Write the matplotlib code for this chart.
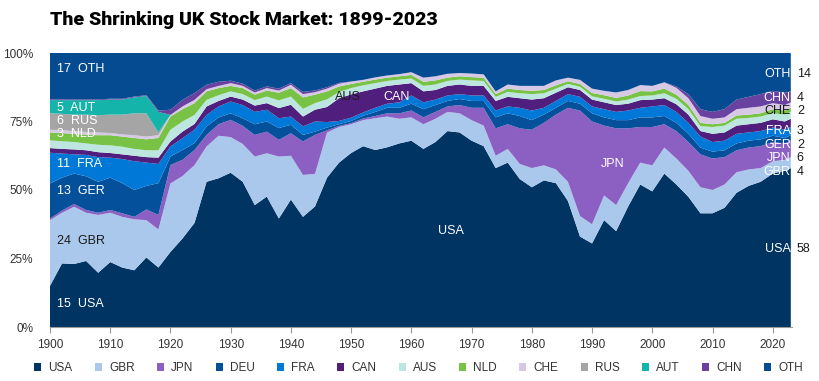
import matplotlib
matplotlib.use("Agg")
import matplotlib.pyplot as plt
from matplotlib.patches import Patch

years = list(range(1900, 2023, 2)) + [2023]

usa = [15.0, 23.2, 23.0, 24.1, 19.8, 23.7, 21.7, 20.7, 25.4, 21.7, 27.4, 32.3, 38.0, 53.0, 54.3, 56.3,
       53.0, 44.5, 47.6, 39.6, 46.5, 40.2, 44.0, 54.5, 60.0, 63.5, 66.0, 64.6, 65.6, 67.0, 68.0,
       65.0, 67.5, 71.5, 71.0, 68.0, 66.0, 58.0, 60.0, 54.0, 51.0, 53.5, 52.5, 46.0, 33.0, 30.5,
       39.0, 35.0, 44.0, 52.0, 49.5, 56.0, 52.0, 47.5, 41.5, 41.5, 43.5, 49.0, 51.5, 53.0, 56.0, 57.0, 58.0]
gbr = [24.0, 18.5, 20.9, 17.6, 21.1, 18.0, 18.5, 18.6, 13.6, 13.9, 25.0, 22.8, 21.1, 12.9, 15.5, 13.0,
       13.8, 17.7, 15.8, 22.6, 16.0, 15.3, 11.9, 16.5, 13.0, 10.5, 9.5, 11.6, 11.2, 9.0, 8.5,
       9.0, 8.5, 7.0, 7.0, 7.5, 7.5, 4.5, 5.0, 5.5, 7.0, 5.5, 5.0, 7.0, 7.5, 7.0,
       9.0, 9.5, 8.5, 8.0, 9.5, 9.5, 9.5, 9.5, 9.5, 8.5, 8.5, 7.5, 6.0, 5.0, 4.5, 4.0, 4.0]
jpn = [0.6, 0.8, 1.0, 1.0, 0.8, 1.0, 1.3, 0.9, 3.9, 5.3, 6.7, 5.9, 5.5, 4.2, 4.2, 6.3,
       6.6, 7.9, 7.9, 6.1, 8.2, 12.2, 14.2, 0.8, 0.4, 0.4, 0.6, 0.8, 1.2, 2.0, 2.5,
       2.5, 2.5, 2.0, 3.0, 4.5, 6.5, 10.0, 9.0, 13.0, 14.0, 15.5, 20.0, 27.0, 38.5, 37.5,
       25.5, 28.0, 20.0, 13.0, 14.0, 8.5, 10.0, 10.5, 12.0, 11.5, 10.0, 8.0, 8.0, 8.0, 7.0, 6.0, 6.0]
deu = [12.8, 12.0, 11.1, 12.3, 11.3, 11.8, 11.0, 9.8, 8.6, 11.6, 3.1, 3.6, 2.5, 3.1, 2.5, 2.4,
       2.8, 3.9, 3.7, 4.3, 3.1, 2.4, 1.2, 1.0, 0.6, 0.8, 1.0, 1.5, 2.0, 2.0, 2.5,
       3.0, 2.5, 2.0, 2.2, 2.5, 2.5, 4.0, 4.0, 4.5, 3.5, 3.0, 2.5, 2.5, 2.5, 3.0,
       3.0, 3.0, 3.0, 3.5, 3.5, 3.0, 3.0, 3.0, 2.5, 2.5, 2.5, 2.5, 2.5, 2.5, 2.3, 2.0, 2.0]
fra = [11.2, 8.8, 7.0, 7.8, 9.0, 7.3, 8.8, 10.5, 8.5, 7.0, 3.7, 4.3, 4.9, 4.2, 4.0, 4.3,
       4.8, 4.5, 4.3, 3.6, 3.0, 3.1, 3.7, 2.0, 1.2, 1.2, 1.2, 1.5, 1.5, 2.0, 3.0,
       2.5, 2.0, 2.0, 1.8, 2.0, 2.0, 2.5, 2.5, 3.0, 3.5, 2.5, 2.5, 2.5, 2.5, 2.5,
       3.0, 3.0, 3.5, 3.5, 4.0, 4.0, 4.0, 4.0, 4.0, 3.5, 3.5, 3.5, 3.0, 3.0, 3.0, 3.0, 3.0]
can = [1.7, 1.7, 1.8, 1.7, 1.8, 1.7, 1.7, 2.0, 2.0, 2.3, 1.8, 2.4, 2.1, 3.1, 2.0, 1.8,
       2.0, 2.3, 2.4, 3.7, 4.3, 3.6, 4.3, 5.5, 8.3, 8.5, 7.7, 7.0, 6.5, 6.5, 4.5,
       4.0, 3.5, 3.5, 3.5, 3.5, 3.5, 3.5, 3.5, 3.5, 4.0, 3.5, 3.0, 2.5, 2.5, 2.5,
       2.5, 2.5, 2.5, 2.8, 2.5, 2.5, 2.8, 3.0, 2.0, 3.0, 3.0, 3.0, 3.0, 3.0, 3.0, 3.0, 3.0]
aus = [2.8, 2.8, 2.7, 2.5, 2.7, 2.8, 2.8, 2.5, 2.5, 2.7, 4.3, 3.7, 3.3, 2.4, 2.1, 1.9,
       2.0, 2.0, 2.4, 2.8, 3.0, 2.8, 2.4, 2.8, 2.3, 2.3, 2.2, 2.0, 1.8, 1.8, 1.7,
       2.0, 2.0, 1.8, 1.8, 2.0, 1.8, 1.5, 1.8, 1.8, 2.0, 1.8, 1.5, 1.2, 1.2, 1.2,
       1.3, 1.3, 1.5, 1.5, 1.5, 1.8, 2.0, 2.0, 1.8, 2.5, 2.5, 2.5, 2.3, 2.3, 2.2, 2.5, 2.5]
nld = [2.9, 3.0, 3.0, 3.2, 3.5, 3.7, 3.7, 4.0, 4.0, 4.5, 4.8, 4.5, 4.3, 3.1, 2.6, 2.0,
       2.2, 2.0, 2.2, 2.8, 3.1, 4.2, 3.1, 2.9, 2.0, 1.5, 1.3, 1.3, 1.2, 1.2, 1.3,
       1.5, 1.5, 1.2, 1.2, 1.2, 1.2, 1.0, 1.2, 1.2, 1.2, 1.2, 1.2, 1.0, 1.0, 1.2,
       1.3, 1.3, 1.5, 1.8, 1.5, 1.7, 1.5, 1.5, 1.2, 1.0, 1.0, 1.2, 1.2, 1.2, 1.5, 1.5, 1.5]
che = [1.0, 1.0, 1.0, 1.0, 1.0, 0.8, 0.8, 1.0, 1.0, 1.0, 0.6, 1.0, 1.2, 0.8, 0.8, 1.0,
       0.8, 0.8, 0.9, 0.8, 1.2, 1.2, 0.9, 1.0, 1.0, 0.9, 0.7, 0.8, 0.8, 0.8, 1.0,
       1.5, 1.5, 1.4, 1.2, 1.3, 1.2, 1.0, 1.5, 1.5, 1.8, 1.5, 1.8, 1.3, 1.5, 1.6,
       1.6, 2.0, 2.0, 2.2, 2.0, 2.3, 2.5, 2.5, 2.5, 2.0, 2.0, 2.3, 2.5, 2.5, 2.2, 2.0, 2.0]
rus = [6.0, 6.0, 6.0, 6.3, 6.3, 6.7, 7.2, 8.0, 8.5, 1.0] + [0.0] * 53
aut = [4.8, 5.0, 5.3, 5.3, 5.5, 5.5, 5.5, 5.8, 6.3, 7.5] + [0.0] * 53
chn = [0.3, 0.3, 0.3, 0.3, 0.3, 0.3, 0.3, 0.3, 0.3, 0.5, 1.9, 2.4, 2.5, 1.6, 1.5, 0.9,
       0.8, 0.7, 0.6, 0.7, 0.6, 0.8, 0.6, 0.5, 0.3, 0.0, 0.0, 0.0, 0.0, 0.0, 0.0,
       0.0, 0.0, 0.0, 0.0, 0.0, 0.0, 0.0, 0.0, 0.0, 0.0, 0.0, 0.0, 0.0, 0.0, 0.0,
       0.0, 0.0, 0.0, 0.0, 0.0, 0.0, 0.5, 1.5, 2.5, 2.5, 3.0, 3.5, 4.0, 4.5, 4.5, 4.5, 4.0]
oth = [16.9, 16.9, 16.9, 16.9, 16.9, 16.7, 16.7, 15.9, 15.4, 21.0, 20.7, 17.1, 14.6, 11.6, 10.5, 10.1,
       11.2, 13.7, 12.2, 13.0, 11.0, 14.2, 13.7, 12.5, 10.9, 10.4, 9.8, 8.9, 8.2, 7.7, 7.0,
       9.0, 8.5, 7.6, 7.3, 7.5, 7.8, 14.0, 11.5, 12.0, 12.0, 12.0, 10.0, 9.0, 9.8, 13.0,
       13.8, 14.4, 13.5, 11.7, 12.0, 10.7, 12.2, 15.0, 20.5, 21.5, 20.5, 17.0, 16.0, 15.0, 13.8, 14.5, 14.0]

series_names = ["USA", "GBR", "JPN", "DEU", "FRA", "CAN", "AUS", "NLD", "CHE", "RUS", "AUT", "CHN", "OTH"]
series_vals = [usa, gbr, jpn, deu, fra, can, aus, nld, che, rus, aut, chn, oth]
colors = ["#003462", "#aac8eb", "#8c5fc3", "#05509b", "#0078d7", "#501e7d", "#bee6e1",
          "#78c346", "#d7c8e6", "#a5a5a5", "#14b4aa", "#6941a0", "#054b91"]

# left labels (1899 shares) and right labels (2023 shares)
left_labels = [("17  OTH", 94), ("5  AUT", 80), ("6  RUS", 75.2), ("3  NLD", 70.5),
               ("11  FRA", 59.5), ("13  GER", 49.5), ("24  GBR", 31.5), ("15  USA", 8.5)]
left_colors = ["white", "white", "white", "white", "white", "white", "#1a1a1a", "white"]
right_names = [("OTH", 92.5), ("CHN", 83.5), ("CHE", 79), ("FRA", 71.5), ("GER", 66.5),
               ("JPN", 61.8), ("GBR", 56.5), ("USA", 28.5)]
right_vals = ["14", "4", "2", "3", "2", "6", "4", "58"]
right_colors = ["white", "white", "#1a1a1a", "white", "white", "white", "white", "white"]

fig = plt.figure(figsize=(8.19, 3.81), dpi=100)
ax = fig.add_axes([50 / 819, 1 - 327 / 381, 742 / 819, 274 / 381])
ax.stackplot(years, *series_vals, colors=colors, linewidth=0)
ax.set_xlim(1900, 2023.2)
ax.set_ylim(0, 100)

tick_font = ["Liberation Sans Narrow", "Liberation Sans", "DejaVu Sans"]
ax.set_yticks([0, 25, 50, 75, 100])
ax.set_yticklabels(["0%", "25%", "50%", "75%", "100%"], family=tick_font, fontsize=8.5, color="#333333")
ax.set_xticks(list(range(1900, 2030, 10)))
ax.set_xticklabels([str(y) for y in range(1900, 2030, 10)], family=tick_font, fontsize=8.5, color="#333333")
ax.tick_params(axis="y", length=0, pad=12)
ax.tick_params(axis="x", length=4, color="#999999", pad=5)
for s in ["top", "right", "left"]:
    ax.spines[s].set_visible(False)
ax.spines["bottom"].set_color("#999999")

lab_font = ["Liberation Sans", "DejaVu Sans"]
for (t, y), c in zip(left_labels, left_colors):
    ax.text(1901.2, y, t, color=c, fontsize=9, family=lab_font, va="center", ha="left")
for (t, y), c, v in zip(right_names, right_colors, right_vals):
    ax.text(2023.0, y, t, color=c, fontsize=9, family=lab_font, va="center", ha="right")
    ax.text(2024.0, y, v, color="#1a1a1a", fontsize=9, family=lab_font, va="center", ha="left", clip_on=False)
ax.text(1949.5, 84, "AUS", color="#1a1a1a", fontsize=9, family=lab_font, va="center", ha="center")
ax.text(1957.5, 84, "CAN", color="white", fontsize=9, family=lab_font, va="center", ha="center")
ax.text(1966.5, 35, "USA", color="white", fontsize=9, family=lab_font, va="center", ha="center")
ax.text(1993.5, 59.5, "JPN", color="white", fontsize=9, family=lab_font, va="center", ha="center")

fig.text(50 / 819, 1 - 20 / 381, "The Shrinking UK Stock Market: 1899-2023", fontsize=14,
         fontweight="heavy", family=["Roboto", "DejaVu Sans"], color="black", va="center", ha="left")

handles = [Patch(facecolor=c, edgecolor="none") for c in colors]
leg = fig.legend(handles, series_names, loc="center", bbox_to_anchor=(0.511, 1 - 368 / 381),
                 ncol=13, frameon=False, handlelength=0.6, handleheight=0.6,
                 handletextpad=0.6, columnspacing=1.89, prop={"family": tick_font, "size": 8.5})
for t in leg.get_texts():
    t.set_color("#333333")

fig.savefig("out.png", dpi=100)
